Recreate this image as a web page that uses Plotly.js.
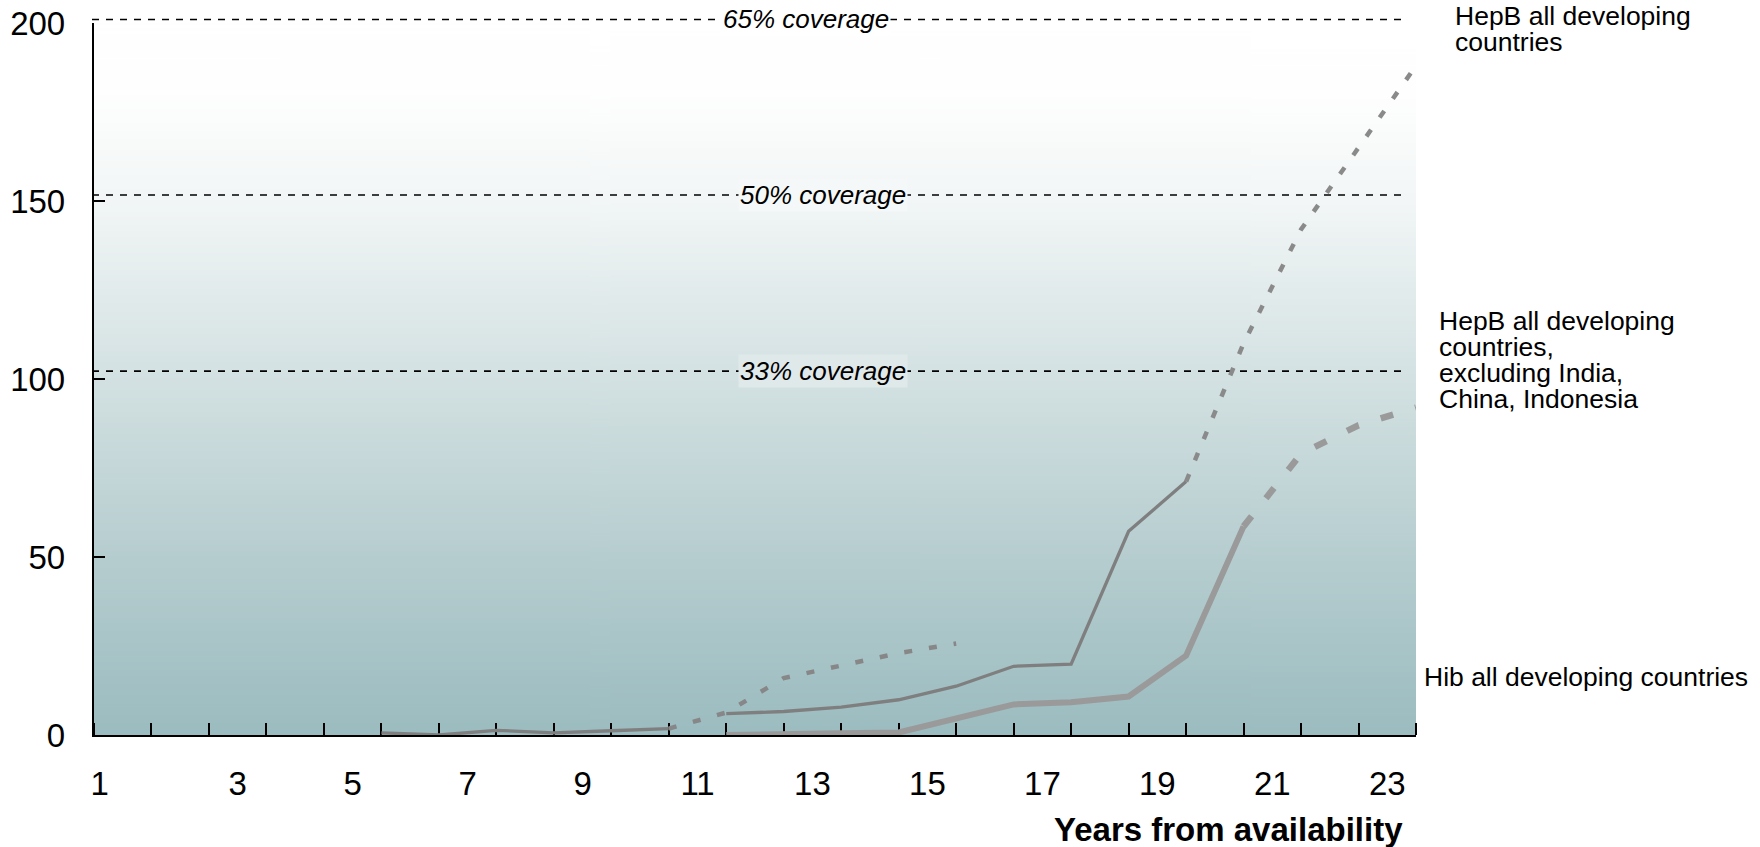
<!DOCTYPE html>
<html>
<head>
<meta charset="utf-8">
<script src="https://cdn.plot.ly/plotly-3.0.1.min.js"></script>
<style>
html,body{margin:0;padding:0;background:#fff;}
#chart{width:1760px;height:847px;}
</style>
</head>
<body>
<div id="chart"></div>
<script>
// ---- data (x = tick index along the "years" axis, y = value) ----
const hibX = [5, 6, 7, 8, 9, 10];
const hibY = [0.6, 0, 1.3, 0.6, 1.2, 1.8];
const hibProjX = [10, 11, 12, 13, 14, 15];
const hibProjY = [1.8, 6.3, 16, 19.6, 23, 25.7];

const hepbAllX = [11, 12, 13, 14, 15, 16, 17, 18, 19];
const hepbAllY = [6, 6.6, 7.8, 9.9, 13.7, 19.3, 19.9, 57.2, 71.2];
const hepbAllProjX = [19, 20, 21, 22, 23];
const hepbAllProjY = [71.2, 110, 142, 165, 188];

const hepbExX = [11, 12, 13, 14, 15, 16, 17, 18, 19, 20];
const hepbExY = [0, 0.4, 0.5, 0.7, 4.8, 8.6, 9.2, 10.8, 22.3, 58.6];
const hepbExProjX = [20, 21, 22, 23];
const hepbExProjY = [58.6, 79, 87, 92];

const xTickVals = [0.1, 2.5, 4.5, 6.5, 8.5, 10.5, 12.5, 14.5, 16.5, 18.5, 20.5, 22.5];
const xTickText = ['1', '3', '5', '7', '9', '11', '13', '15', '17', '19', '21', '23'];
const yTickVals = [0, 50, 100, 150, 200];
const yRange = [0, 200];

const coverageLevels = [201, 151.7, 102.2];
const coverageLabels = ['65% coverage', '50% coverage', '33% coverage'];

const seriesLabels = {
  hepbAll: ['HepB all developing', 'countries'],
  hepbEx: ['HepB all developing', 'countries,', 'excluding India,', 'China, Indonesia'],
  hib: ['Hib all developing countries']
};
const xTitle = 'Years from availability';

// ---- layout helpers ----
const W = 1760, H = 847;
const ML = 94, MR = 344, MT = 23, MB = 112;
const PW = W - ML - MR, PH = H - MT - MB;
const px = v => (v - ML) / PW;
const py = v => (H - MB - v) / PH;
const yPaper = v => (v - yRange[0]) / (yRange[1] - yRange[0]);
const FONT = '"Liberation Sans", Arial, Helvetica, sans-serif';
const LABEL_SIZE = 26.5;
const LINE_EM = 0.98; // tight line spacing of the right-hand labels

// background gradient
function gradientURL() {
  const c = document.createElement('canvas');
  c.width = 4; c.height = 512;
  const g = c.getContext('2d');
  const lg = g.createLinearGradient(0, 0, 0, 512);
  lg.addColorStop(0, '#ffffff');
  lg.addColorStop(0.1, '#fefefe');
  lg.addColorStop(0.25, '#f2f6f6');
  lg.addColorStop(0.5, '#d3e1e2');
  lg.addColorStop(0.75, '#b6cdcf');
  lg.addColorStop(1, '#9bbcc0');
  g.fillStyle = lg;
  g.fillRect(0, 0, 4, 512);
  return c.toDataURL('image/png');
}

const darkLine = '#7f7f7f';
const lightLine = '#9a9a9a';

const traces = [
  {x: hibX, y: hibY, mode: 'lines', line: {color: darkLine, width: 3.3}, cliponaxis: false, hoverinfo: 'skip'},
  {x: hibProjX, y: hibProjY, mode: 'lines', line: {color: '#878787', width: 4.5, dash: '8px,17px'}, cliponaxis: false, hoverinfo: 'skip'},
  {x: hepbAllX, y: hepbAllY, mode: 'lines', line: {color: darkLine, width: 3.3}, cliponaxis: false, hoverinfo: 'skip'},
  {x: hepbAllProjX, y: hepbAllProjY, mode: 'lines', line: {color: '#8a8a8a', width: 4.5, dash: '8px,15px'}, cliponaxis: false, hoverinfo: 'skip'},
  {x: hepbExX, y: hepbExY, mode: 'lines', line: {color: lightLine, width: 6}, cliponaxis: false, hoverinfo: 'skip'},
  {x: hepbExProjX, y: hepbExProjY, mode: 'lines', line: {color: lightLine, width: 6.5, dash: '13px,23px'}, cliponaxis: false, hoverinfo: 'skip'}
];

const shapes = coverageLevels.map(v => ({
  type: 'line', xref: 'paper', yref: 'paper',
  x0: px(92), x1: px(1401), y0: yPaper(v), y1: yPaper(v),
  line: {color: '#000', width: 1.6, dash: '7px,7px'},
  layer: 'below'
}));

const covX = [806, 823, 823];
const covBg = ['#ffffff', '#f5f8f8', '#e0e9ea'];
const annotations = coverageLabels.map((t, i) => ({
  text: t, xref: 'paper', yref: 'paper', x: px(covX[i]), y: yPaper(coverageLevels[i]),
  xanchor: 'center', yanchor: 'middle', showarrow: false,
  font: {family: FONT, size: 26, color: '#000', style: 'italic'},
  bgcolor: covBg[i], borderpad: 1
}));

// right-hand series labels: one text block each, first line centred at yFirst (px)
function addBlock(lines, x, yFirst) {
  annotations.push({
    text: lines.join('<br>'), xref: 'paper', yref: 'paper', x: px(x),
    y: py(yFirst - LABEL_SIZE * 0.65 - 1),
    xanchor: 'left', yanchor: 'top', align: 'left', showarrow: false,
    font: {family: FONT, size: LABEL_SIZE, color: '#000'}
  });
}
addBlock(seriesLabels.hepbAll, 1453, 17);
addBlock(seriesLabels.hepbEx, 1437, 322);
addBlock(seriesLabels.hib, 1422, 678);

annotations.push({
  text: '<b>' + xTitle + '</b>', xref: 'paper', yref: 'paper',
  x: px(1405), y: py(829), xanchor: 'right', yanchor: 'middle', showarrow: false,
  font: {family: FONT, size: 33, color: '#000'}
});

const layout = {
  width: W, height: H,
  margin: {l: ML, r: MR, t: MT, b: MB, pad: 0},
  paper_bgcolor: '#ffffff',
  plot_bgcolor: '#ffffff',
  showlegend: false,
  font: {family: FONT, size: 33, color: '#000'},
  xaxis: {
    range: [0, 23], showgrid: false, zeroline: false,
    showline: true, linecolor: '#000', linewidth: 2.2, layer: 'below traces',
    tickmode: 'array', tickvals: xTickVals, ticktext: xTickText, ticks: '',
    ticklabelstandoff: 18,
    tickfont: {family: FONT, size: 33, color: '#000'},
    minor: {ticks: 'inside', tickmode: 'linear', tick0: 0, dtick: 1, ticklen: 12, tickwidth: 2, tickcolor: '#000', showgrid: false},
    fixedrange: true
  },
  yaxis: {
    range: yRange, showgrid: false, zeroline: false,
    showline: true, linecolor: '#000', linewidth: 2.2, layer: 'below traces',
    tickmode: 'array', tickvals: yTickVals, ticks: 'inside', ticklen: 11, tickwidth: 2, tickcolor: '#000',
    ticklabelstandoff: 20,
    tickfont: {family: FONT, size: 33, color: '#000'},
    fixedrange: true
  },
  images: [{
    source: gradientURL(), xref: 'paper', yref: 'paper', x: 0, y: 1, sizex: 1, sizey: 1,
    sizing: 'stretch', xanchor: 'left', yanchor: 'top', layer: 'below'
  }],
  shapes: shapes,
  annotations: annotations
};

Plotly.newPlot('chart', traces, layout, {displayModeBar: false, staticPlot: true}).then(gd => {
  // tighten line spacing of the multi-line right-hand labels (first line stays in place)
  gd.querySelectorAll('.annotation-text').forEach(t => {
    const lines = t.querySelectorAll('tspan.line');
    if (lines.length > 1) {
      lines.forEach((s, i) => s.setAttribute('dy', (i * LINE_EM) + 'em'));
    }
  });
});
</script>
</body>
</html>
